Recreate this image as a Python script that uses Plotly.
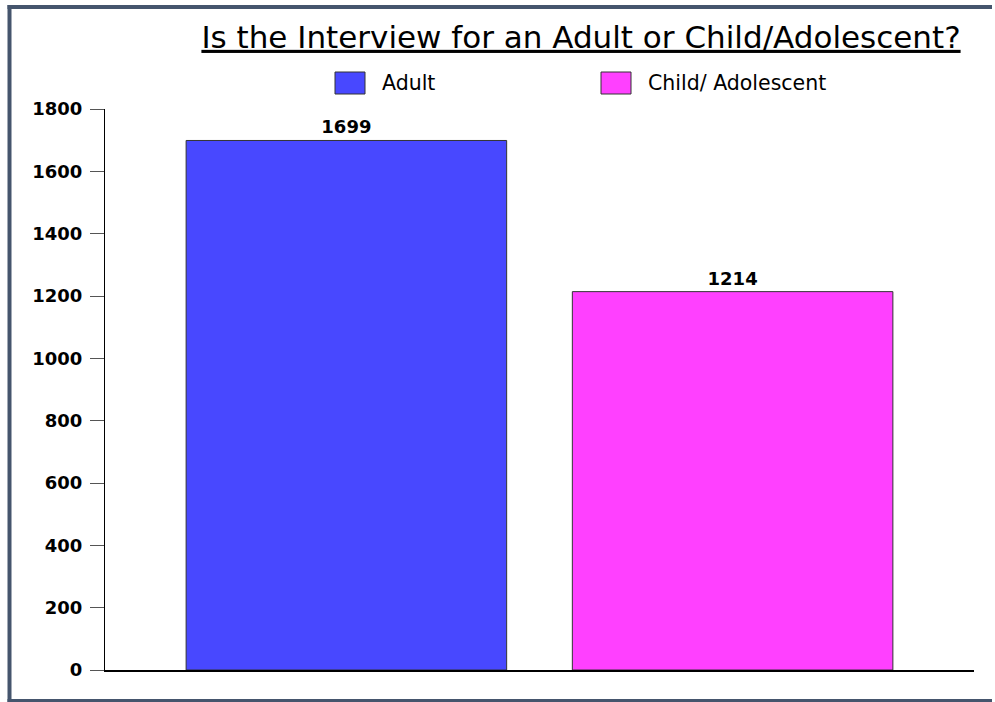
import plotly.graph_objects as go

# ---- data ----
categories = ["Adult", "Child/ Adolescent"]
counts = [1699, 1214]
bar_colors = ["#4848FF", "#FF40FF"]
y_ticks = [0, 200, 400, 600, 800, 1000, 1200, 1400, 1600, 1800]
title_text = "Is the Interview for an Adult or Child/Adolescent?"

W, H = 995, 702
L, R, T, B = 105, 21, 109, 32
PW, PH = W - L - R, H - T - B


def px(x):
    return (x - L) / PW


def py(y):
    return (H - B - y) / PH


FONT = "DejaVu Sans"
FRAME = dict(color="#45556D", width=4)

fig = go.Figure()
fig.add_trace(go.Bar(
    x=categories,
    y=counts,
    width=0.83,
    marker=dict(color=bar_colors, line=dict(color="#333333", width=1)),
    text=[str(v) for v in counts],
    textposition="outside",
    textfont=dict(family=FONT, size=18, color="black", weight="bold"),
    cliponaxis=False,
    showlegend=False,
    hoverinfo="x+y",
))

shapes = []
annotations = []

# outer frame: left, top, bottom edges only (right edge lies off the page)
shapes.append(dict(type="line", xref="paper", yref="paper",
                   x0=px(9.5), x1=px(9.5), y0=py(5), y1=py(703), line=FRAME, layer="below"))
shapes.append(dict(type="line", xref="paper", yref="paper",
                   x0=px(7.5), x1=px(W - 3), y0=py(7), y1=py(7), line=FRAME, layer="below"))
shapes.append(dict(type="line", xref="paper", yref="paper",
                   x0=px(7.5), x1=px(W - 3), y0=py(701), y1=py(701), line=FRAME, layer="below"))

# legend (manual, larger swatches)
legend_x = [335, 601]
for name, col, lx in zip(categories, bar_colors, legend_x):
    shapes.append(dict(type="rect", xref="paper", yref="paper",
                       x0=px(lx), x1=px(lx + 30), y0=py(94), y1=py(72),
                       line=dict(color="#333333", width=1), fillcolor=col))
    annotations.append(dict(xref="paper", yref="paper", x=px(lx + 45), y=py(83),
                            xanchor="left", yanchor="middle", showarrow=False,
                            text=name, font=dict(family=FONT, size=20.5, color="black")))

fig.update_layout(
    width=W, height=H, autosize=False,
    margin=dict(l=L, r=R, t=T, b=B, pad=0),
    paper_bgcolor="white", plot_bgcolor="white",
    title=dict(text="<u>" + title_text + "</u>", xref="container", yref="container",
               x=581 / W, xanchor="center", y=1 - 37 / H, yanchor="middle",
               font=dict(family=FONT, size=31, color="black")),
    xaxis=dict(type="category", range=[-0.625, 1.625], showticklabels=False,
               ticks="", showgrid=False, zeroline=False, showline=True,
               linecolor="black", linewidth=2, fixedrange=True),
    yaxis=dict(range=[0, 1800], tickvals=y_ticks, ticks="outside", ticklen=14,
               tickcolor="#555555", tickwidth=1, showgrid=False, zeroline=False,
               showline=True, linecolor="black", linewidth=1,
               ticklabelstandoff=4,
               tickfont=dict(family=FONT, size=18, color="black", weight="bold"),
               fixedrange=True),
    shapes=shapes,
    annotations=annotations,
    showlegend=False,
)

fig.write_html("out.html")
